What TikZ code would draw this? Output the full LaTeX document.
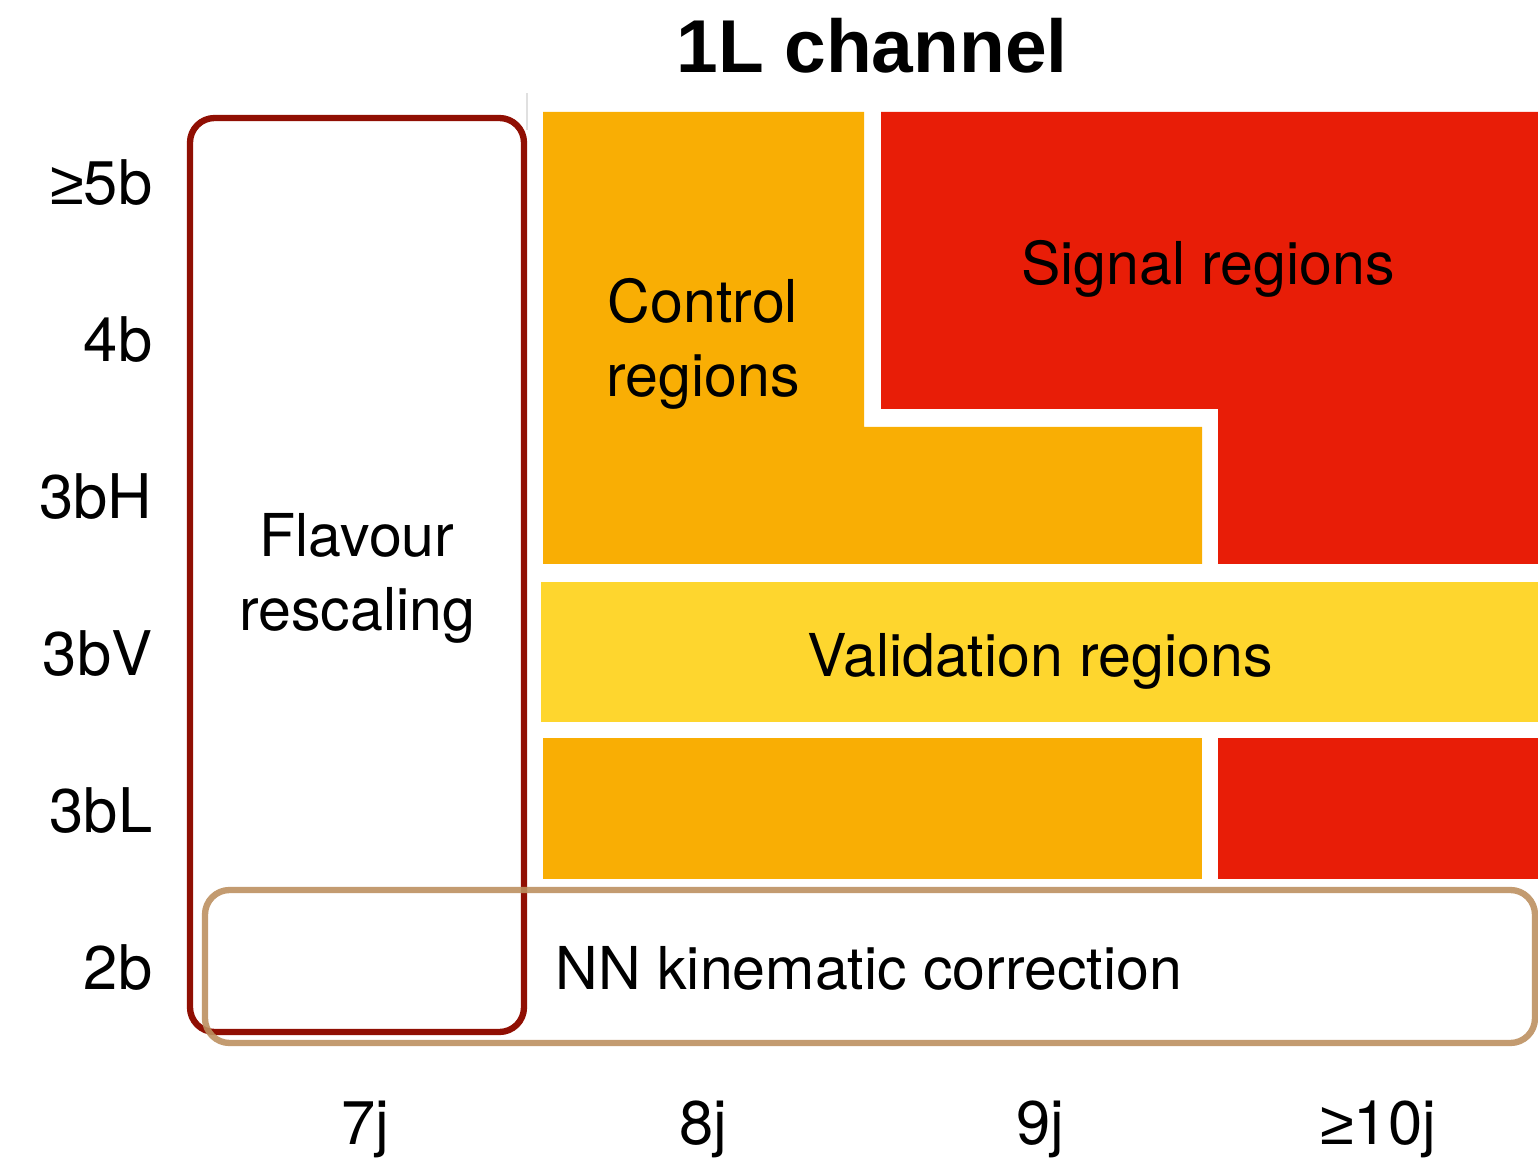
\documentclass[tikz,border=0pt]{standalone}
\usepackage{fontspec}
\setmainfont{TeX Gyre Heros}
\newfontfamily\symfont{Liberation Sans}
\newfontfamily\titlefont{Liberation Sans}
\newcommand{\gsym}{{\symfont ≥}}
\definecolor{ctrlorange}{HTML}{F9AE04}
\definecolor{sigred}{HTML}{E81D07}
\definecolor{valyellow}{HTML}{FED62E}
\definecolor{flavred}{HTML}{900F03}
\definecolor{nntan}{HTML}{BC9060}
\tikzset{
  lbl/.style={font=\fontsize{17.5pt}{21pt}\selectfont, inner sep=0pt},
  regiontext/.style={font=\fontsize{16.8pt}{21pt}\selectfont, inner sep=0pt, align=center},
  framebox/.style={line width=1.8pt, rounded corners=7pt},
}
\begin{document}
\begin{tikzpicture}[x=0.01cm,y=-0.01cm]
  \useasboundingbox (0,0) rectangle (1538,1161);
  % coloured regions
  \fill[ctrlorange] (543,112) -- (864,112) -- (864,427) -- (1202,427) -- (1202,564) -- (543,564) -- cycle;
  \fill[sigred] (881,112) -- (1538,112) -- (1538,564) -- (1218,564) -- (1218,409) -- (881,409) -- cycle;
  \fill[valyellow] (541,582) rectangle (1538,722);
  \fill[ctrlorange] (543,738) rectangle (1202,879);
  \fill[sigred] (1218,738) rectangle (1538,879);
  \draw[black!12, line width=0.4pt] (527,93) -- (527,130);
  % frames
  \draw[framebox, flavred] (190,118) rectangle (524,1032);
  \draw[framebox, nntan, opacity=0.9] (205,890) rectangle (1535,1043);
  % title
  \node[anchor=base, inner sep=0pt, font=\titlefont\bfseries\fontsize{21.3pt}{25pt}\selectfont] (title) at (872,73) {1L channel};
  % b-tag rows
  \foreach \lab/\nm [count=\i from 0] in {\gsym5b/r5b, 4b/r4b, 3bH/r3bH, 3bV/r3bV, 3bL/r3bL, 2b/r2b}
    \node[lbl, anchor=base east] (\nm) at (153,205+157*\i) {\lab};
  % jet columns
  \foreach \lab/\nm/\x in {7j/c7j/365, 8j/c8j/703, 9j/c9j/1040, \gsym10j/c10j/1378}
    \node[lbl, anchor=base] (\nm) at (\x,1145) {\lab};
  % region names
  \node[regiontext] (ctrl) at (703,344) {Control\\regions};
  \node[regiontext, anchor=base] (sig) at (1208,285) {Signal regions};
  \node[regiontext] (flav) at (357,578) {Flavour\\rescaling};
  \node[regiontext, anchor=base] (val) at (1040,677) {Validation regions};
  \node[regiontext, anchor=base west] (nn) at (555,990) {NN kinematic correction};
\end{tikzpicture}
\end{document}
